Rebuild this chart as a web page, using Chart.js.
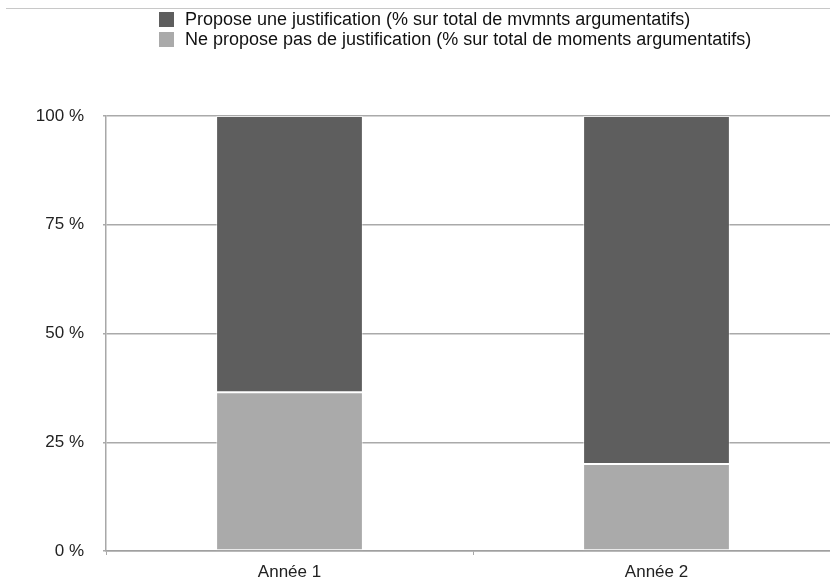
<!DOCTYPE html>
<html lang="fr">
<head>
  <meta charset="UTF-8" />
  <title>Justification</title>
  <script src="https://cdn.jsdelivr.net/npm/chart.js"></script>
  <style>
    body {
      margin: 0;
      width: 830px;
      height: 585px;
      overflow: hidden;
      background: #fff;
      font-family: "Liberation Sans", Arial, sans-serif;
    }
    .wrap {
      position: relative;
      width: 840px;
      height: 585px;
    }
    .topline {
      position: absolute;
      left: 6px;
      top: 8px;
      width: 834px;
      border-top: 1px solid #c8c8c8;
    }
    .legend {
      position: absolute;
      left: 159px;
      top: 10px;
      font-size: 18px;
      color: #111;
    }
    .legend div {
      height: 20px;
      line-height: 18px;
      white-space: nowrap;
    }
    .legend span {
      display: inline-block;
      width: 15px;
      height: 15px;
      margin-right: 11px;
      vertical-align: -2px;
    }
  </style>
</head>
<body>
  <div class="wrap">
    <div class="topline"></div>
    <div class="legend" id="legend"></div>
    <canvas id="chart" width="840" height="585"></canvas>
  </div>

  <script>
    const years = ['Année 1', 'Année 2'];
    const labelPropose = 'Propose une justification (% sur total de mvmnts argumentatifs)';
    const labelNePropose = 'Ne propose pas de justification (% sur total de moments argumentatifs)';
    const propose = [63.5, 80];
    const nePropose = [36.5, 20];
    const yTicks = [0, 25, 50, 75, 100];

    const darkGrey = '#5e5e5e';
    const lightGrey = '#aaaaaa';

    // legend written by hand so both lines stay left aligned
    const legend = document.getElementById('legend');
    [[labelPropose, darkGrey], [labelNePropose, lightGrey]].forEach(([txt, col]) => {
      legend.innerHTML += `<div><span style="background:${col}"></span>${txt}</div>`;
    });

    Chart.defaults.font.family = '"Liberation Sans", Arial, sans-serif';
    Chart.defaults.font.size = 17;
    Chart.defaults.color = '#222';

    new Chart(document.getElementById('chart'), {
      type: 'bar',
      data: {
        labels: years,
        datasets: [
          {
            label: labelNePropose,
            data: nePropose,
            backgroundColor: lightGrey,
            borderColor: 'rgba(255,255,255,0.5)',
            borderWidth: 1,
            borderSkipped: false
          },
          {
            label: labelPropose,
            data: propose,
            backgroundColor: darkGrey,
            borderColor: 'rgba(255,255,255,0.45)',
            borderWidth: 1,
            borderSkipped: false
          }
        ]
      },
      options: {
        responsive: false,
        animation: false,
        layout: { padding: { top: 116, left: 0, right: 0, bottom: 0 } },
        plugins: {
          legend: { display: false },
          tooltip: { enabled: false }
        },
        datasets: {
          bar: { barPercentage: 0.4, categoryPercentage: 1 }
        },
        scales: {
          x: {
            stacked: true,
            grid: {
              offset: true,
              drawOnChartArea: false,
              drawTicks: true,
              tickLength: 4,
              color: '#a8a8a8'
            },
            border: { color: '#a0a0a0', width: 1.5 },
            ticks: { padding: 7, color: '#222' },
            afterFit: s => { s.height = 34; }
          },
          y: {
            stacked: true,
            min: 0,
            max: 100,
            afterBuildTicks: s => { s.ticks = yTicks.map(v => ({ value: v })); },
            ticks: {
              padding: 19,
              color: '#222',
              callback: v => v + ' %'
            },
            grid: {
              color: '#aaaaaa',
              lineWidth: 1.5,
              tickLength: 3
            },
            border: { color: '#a8a8a8', width: 1.5 },
            afterFit: s => { s.width = 106; }
          }
        }
      }
    });
  </script>
</body>
</html>
